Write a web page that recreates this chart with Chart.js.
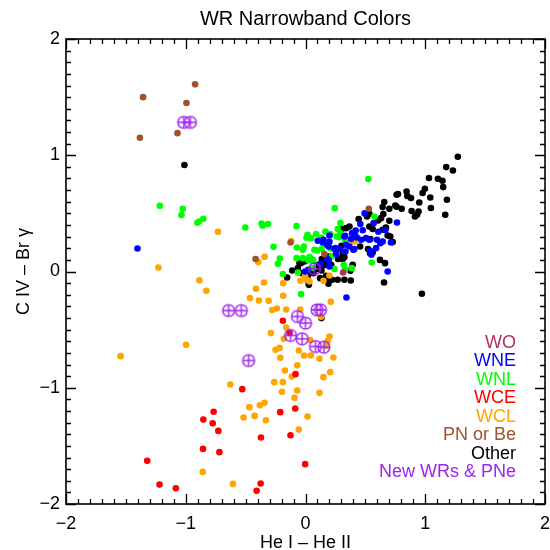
<!DOCTYPE html>
<html>
<head>
<meta charset="utf-8">
<script src="https://cdn.jsdelivr.net/npm/chart.js@4.4.1/dist/chart.umd.min.js"></script>
<style>
html,body{margin:0;padding:0;background:#fff;}
#c{display:block;}
</style>
</head>
<body>
<canvas id="c" width="550" height="550"></canvas>
<script>
// ---- Data (He I - He II, C IV - Br gamma) ----
const newWRs = [[-1.017,1.283],[-0.961,1.283],[-0.642,-0.336],[-0.536,-0.336],[-0.475,-0.766],
  [-0.067,-0.387],[0.0,-0.444],[-0.125,-0.55],[-0.028,-0.579],[0.083,-0.645],[0.153,-0.651],
  [0.097,-0.33],[0.125,-0.33],[0.075,0.023]];
const wo = [[0.314,-0.009]];
const pnBe = [[-1.356,1.50],[-0.922,1.61],[-0.994,1.45],[-1.383,1.15],[-1.069,1.19],[-0.417,0.107],
  [0.528,0.54],[-0.125,0.25],[0.158,0.15]];
const wne = [[-1.403,0.198],[-0.003,0.0],[0.764,0.422],[0.686,0.0],[0.342,-0.224],[0.494,0.5],[0.569,0.416],
  [0.458,0.408],[0.419,0.353],[0.478,0.355],[0.608,0.342],[0.667,0.356],[0.2,0.31],[0.331,0.307],[0.381,0.279],
  [0.417,0.301],[0.103,0.264],[0.15,0.273],[0.2,0.256],[0.464,0.273],[0.506,0.287],[0.597,0.273],[0.644,0.258],
  [0.625,0.244],[0.181,0.23],[0.25,0.201],[0.289,0.193],[0.339,0.23],[0.367,0.215],[0.408,0.193],[0.589,0.201],
  [0.539,0.178],[0.55,0.144],[0.256,0.15],[0.181,0.109],[0.194,0.095],[0.125,0.066],[0.389,0.33],[0.325,0.301],
  [0.428,0.293],[0.533,0.273],[0.714,0.25],[0.144,0.25],[0.194,0.215],[0.242,0.193],[0.4,0.187],[0.333,0.172],
  [0.408,0.322],[0.2,0.043],[0.022,0.015]];
const wnl = [[-1.217,0.565],[-1.025,0.54],[-1.036,0.485],[-0.903,0.419],[-0.889,0.43],[-0.853,0.454],
  [-0.503,0.379],[-0.367,0.413],[-0.358,0.393],[-0.314,0.408],[-0.075,0.39],[-0.267,0.213],[-0.214,0.112],
  [-0.231,0.066],[-0.072,0.207],[-0.075,0.115],[-0.022,0.187],[-0.189,-0.022],[0.017,0.316],[0.008,0.29],
  [0.525,0.795],[0.244,0.545],[0.575,0.473],[0.292,0.416],[-0.036,-0.195],[0.047,0.287],[0.089,0.322],
  [0.167,0.344],[0.208,0.322],[0.269,0.365],[0.261,0.301],[0.075,0.187],[0.136,0.195],[0.208,0.2],
  [-0.022,0.115],[0.033,0.124],[0.219,0.129],[0.025,0.095],[0.242,0.021],[0.331,0.015],[0.386,0.029],
  [0.553,0.077],[0.333,0.267],[0.131,0.29],[0.283,0.296],[-0.014,0.215],[0.097,0.181],[0.261,0.158],
  [0.064,0.1],[-0.064,-0.009],[0.06,0.03],[0.319,0.058],[0.292,0.33]];
const wce = [[-0.189,-0.424],[-0.133,-0.53],[-0.083,-0.883],[-0.528,-1.012],[-0.767,-1.207],[-0.853,-1.274],
  [-0.775,-1.305],[-0.728,-1.371],[-0.211,-1.21],[-0.086,-1.179],[-0.372,-1.428],[-0.125,-1.408],
  [-0.856,-1.526],[-0.719,-1.554],[-1.322,-1.629],[-1.219,-1.833],[-1.083,-1.864],[-0.375,-1.824],
  [-0.408,-1.887],[-0.003,-1.657]];
const wcl = [[-0.731,0.342],[-1.228,0.034],[-0.886,-0.075],[-0.119,0.262],[-0.394,0.081],[-0.342,0.127],
  [-0.828,-0.166],[-0.414,-0.149],[-0.347,-0.095],[-0.186,-0.10],[-0.042,-0.08],[-0.464,-0.229],
  [-0.389,-0.25],[-0.308,-0.252],[-0.186,-0.209],[-0.278,-0.332],[-0.239,-0.318],[-0.161,-0.327],
  [-0.044,-0.327],[-0.289,-0.53],[-0.161,-0.482],[-0.181,-0.579],[-0.217,-0.657],[-0.25,-0.674],
  [-0.211,-0.743],[-0.056,-0.68],[-0.011,-0.723],[-0.069,-0.806],[-0.172,-0.852],[-0.114,-0.904],
  [-0.261,-0.952],[-0.189,-0.952],[-0.197,-1.035],[-0.069,-1.024],[-0.092,-1.087],[-0.628,-0.972],
  [-0.997,-0.631],[-1.544,-0.728],[-0.469,-1.167],[-0.381,-1.15],[-0.342,-1.13],[-0.517,-1.256],
  [-0.425,-1.242],[-0.331,-1.279],[0.017,-1.248],[-0.056,-1.36],[-0.858,-1.724],[-0.606,-1.827],
  [0.117,-1.044],[0.15,-0.909],[0.117,-0.751],[0.044,-0.723],[0.207,-0.866],[0.233,-0.74],[0.2,-0.559],
  [0.186,-0.596],[0.211,-0.261],[0.011,-0.071],[0.033,-0.086],[0.15,-0.08],[0.2,-0.034],[0.039,-0.59],
  [0.175,-0.64],[-0.004,-0.04],[0.389,0.264],[0.411,0.258],[0.13,-0.39]];
const other = [[-1.011,0.916],[1.272,0.987],[1.175,0.898],[1.231,0.869],[1.031,0.804],[1.106,0.798],
  [1.144,0.781],[1.15,0.726],[0.997,0.712],[0.978,0.675],[0.844,0.688],[0.85,0.649],[0.881,0.632],
  [0.761,0.66],[0.772,0.666],[1.042,0.637],[1.181,0.617],[0.95,0.594],[0.658,0.597],[0.644,0.554],
  [0.75,0.568],[0.761,0.557],[0.7,0.54],[0.803,0.54],[1.047,0.546],[0.886,0.52],[0.944,0.516],
  [0.931,0.488],[0.914,0.473],[1.167,0.488],[0.65,0.494],[0.631,0.459],[0.7,0.436],[0.672,0.379],
  [0.644,0.359],[0.686,0.31],[0.708,0.301],[0.728,0.253],[0.444,0.451],[0.514,0.473],[0.533,0.497],
  [0.606,0.439],[0.542,0.279],[0.522,0.193],[0.539,0.158],[0.303,0.365],[0.325,0.124],[0.311,0.107],
  [-0.039,0.072],[-0.008,0.086],[-0.111,0.009],[-0.153,-0.052],[0.028,-0.1],[0.122,-0.057],
  [0.172,-0.037],[0.192,-0.106],[0.181,-0.065],[0.222,-0.071],[0.269,-0.071],[0.325,-0.071],
  [0.378,-0.077],[0.133,0.009],[0.172,0.058],[0.214,0.058],[0.272,0.107],[0.656,-0.095],[0.972,-0.192],
  [0.533,0.387],[0.561,0.365],[0.339,0.373],[0.367,0.387],[0.3,0.221],[0.456,0.215],[0.561,0.164],
  [0.622,0.1],[0.664,0.072],[0.283,0.144],[0.136,0.107],[0.111,0.058],[-0.05,0.072],[-0.064,0.029],
  [0.394,0.058],[0.375,0.006],[0.042,0.107],[0.061,0.095],[0.028,0.0],[0.067,-0.014],[0.097,0.021],
  [0.144,0.049],[0.178,0.064],[0.167,0.107],[0.194,0.129],[0.317,0.12],[0.133,-0.401],[0.019,-0.037],
  [-0.028,-0.014],[0.028,-0.115],[-0.036,0.077]];

const seriesNames = ['WO','WNE','WNL','WCE','WCL','PN or Be','Other','New WRs & PNe'];
const seriesColors = ['#B03060','#0000FF','#00FF00','#FF0000','#FFA500','#A0522D','#000000','#A020F0'];
const xTickLabels = ['\u22122','\u22121','0','1','2'];
const yTickLabels = ['\u22122','\u22121','0','1','2'];
const axisMin = -2, axisMax = 2;

const FONT = '"Liberation Sans", Arial, Helvetica, sans-serif';

// circle-with-plus marker
function circlePlus(color){
  const r = 5.9, s = 16;
  const cv = document.createElement('canvas');
  cv.width = s; cv.height = s;
  const g = cv.getContext('2d');
  g.strokeStyle = color; g.lineWidth = 1.4;
  g.beginPath(); g.arc(s/2, s/2, r, 0, Math.PI*2); g.stroke();
  g.beginPath(); g.moveTo(s/2 - r, s/2); g.lineTo(s/2 + r, s/2);
  g.moveTo(s/2, s/2 - r); g.lineTo(s/2, s/2 + r); g.stroke();
  return cv;
}
const toXY = arr => arr.map(p => ({x: p[0], y: p[1]}));
function dotSet(label, data, color){
  return {label, data: toXY(data), pointRadius: 3.3, pointHoverRadius: 3.3,
    backgroundColor: color, borderColor: color, borderWidth: 0, showLine: false};
}
// first dataset is drawn on top in Chart.js
const datasets = [
  {label: seriesNames[7], data: toXY(newWRs), pointStyle: circlePlus(seriesColors[7]), showLine:false},
  dotSet(seriesNames[0], wo, seriesColors[0]),
  dotSet(seriesNames[5], pnBe, seriesColors[5]),
  dotSet(seriesNames[1], wne, seriesColors[1]),
  dotSet(seriesNames[2], wnl, seriesColors[2]),
  dotSet(seriesNames[3], wce, seriesColors[3]),
  dotSet(seriesNames[4], wcl, seriesColors[4]),
  dotSet(seriesNames[6], other, seriesColors[6])
];

const frameTicks = {
  id: 'frameTicks',
  afterDraw(chart){
    const {ctx, chartArea: a, scales: {x, y}} = chart;
    ctx.save();
    ctx.strokeStyle = '#000'; ctx.lineWidth = 1.6;
    ctx.strokeRect(a.left, a.top, a.right - a.left, a.bottom - a.top);
    ctx.lineWidth = 1.3;
    ctx.beginPath();
    for (let i = 0; i <= 40; i++){
      const v = axisMin + i * 0.1;
      const len = (i % 10 === 0) ? 10 : 5;
      const px = Math.round(x.getPixelForValue(v)) + 0.5;
      ctx.moveTo(px, a.bottom); ctx.lineTo(px, a.bottom - len);
      ctx.moveTo(px, a.top); ctx.lineTo(px, a.top + len);
      const py = Math.round(y.getPixelForValue(v)) + 0.5;
      ctx.moveTo(a.left, py); ctx.lineTo(a.left + len, py);
      ctx.moveTo(a.right, py); ctx.lineTo(a.right - len, py);
    }
    ctx.stroke();
    // legend text, right aligned
    ctx.font = '18px ' + FONT;
    ctx.textAlign = 'right'; ctx.textBaseline = 'middle';
    const lx = a.right - 29, ly = a.top + 304, step = 18.5;
    seriesNames.forEach((n, i) => {
      ctx.fillStyle = seriesColors[i];
      ctx.fillText(n, lx, ly + i * step);
    });
    ctx.restore();
  }
};

new Chart(document.getElementById('c'), {
  type: 'scatter',
  data: {datasets},
  options: {
    responsive: false, animation: false, devicePixelRatio: 1,
    layout: {padding: {left: 0, right: 4, top: 0, bottom: 0}},
    plugins: {
      legend: {display: false}, tooltip: {enabled: false},
      title: {display: true, fullSize: false, text: 'WR Narrowband Colors', color: '#000',
        font: {family: FONT, size: 20, weight: 'normal'}, padding: {top: 7, bottom: 8}}
    },
    scales: {
      x: {type: 'linear', min: axisMin, max: axisMax,
        afterFit(s){ s.height = 46; s.paddingLeft = 0; s.paddingRight = 0; },
        grid: {display: false, drawTicks: false}, border: {display: false},
        ticks: {stepSize: 1, padding: 9, color: '#000', maxRotation: 0,
          font: {family: FONT, size: 18},
          callback: v => xTickLabels[Math.round(v - axisMin)]},
        title: {display: true, text: 'He I \u2013 He II', color: '#000',
          font: {family: FONT, size: 18}, padding: {top: 0, bottom: -4}}
      },
      y: {type: 'linear', min: axisMin, max: axisMax,
        afterFit(s){ s.width = 66; s.paddingTop = 0; s.paddingBottom = 0; },
        grid: {display: false, drawTicks: false}, border: {display: false},
        ticks: {stepSize: 1, padding: 6, color: '#000',
          font: {family: FONT, size: 18},
          callback: v => yTickLabels[Math.round(v - axisMin)]},
        title: {display: true, text: 'C IV \u2013 Br \u03b3', color: '#000',
          font: {family: FONT, size: 18}, padding: {top: 13, bottom: 0}}
      }
    }
  },
  plugins: [frameTicks]
});
</script>
</body>
</html>
